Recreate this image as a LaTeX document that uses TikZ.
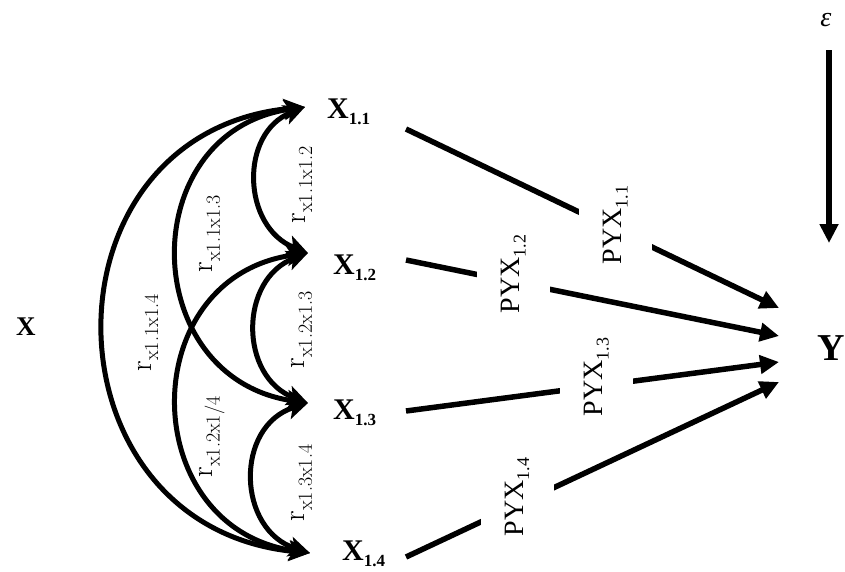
\documentclass[tikz,border=0pt]{standalone}
\usepackage{fontspec}
\newfontfamily\tnr{Liberation Serif}
\usetikzlibrary{arrows.meta}
\newcommand{\fsz}[1]{\fontsize{#1}{#1}\selectfont}
\newcommand{\xlab}[1]{{\tnr\bfseries\fsz{30}X\raisebox{-6pt}{\fsz{17}#1}}}
\newcommand{\pyx}[1]{{\tnr\fsz{28}PYX\raisebox{-6pt}{\fsz{18}#1}}}
\newcommand{\rlab}[1]{{\fsz{30}r\raisebox{-7pt}{\fsz{20}#1}}}
\begin{document}
\begin{tikzpicture}[x=1pt,y=-1pt,
  conn/.style={line width=5.5pt,-{Triangle[length=19pt,width=18pt]}},
  corr/.style={line width=5pt,{Stealth[length=21pt,width=20pt,inset=5pt]}-{Stealth[length=21pt,width=20pt,inset=5pt]}},
  pbox/.style={fill=white,rotate=90,inner sep=0pt,minimum height=73pt},
  rtxt/.style={rotate=90,inner sep=0pt},
  lbl/.style={inner sep=0pt}]
\useasboundingbox (0,0) rectangle (845,571);
\fill[white] (0,0) rectangle (845,571);

% variable nodes
\node[lbl,anchor=base west] (X) at (16,335) {{\tnr\bfseries\fsz{27}X}};
\node[lbl,anchor=base west] (X11) at (327,118) {\xlab{1.1}};
\node[lbl,anchor=base west] (X12) at (333,274) {\xlab{1.2}};
\node[lbl,anchor=base west] (X13) at (333,419) {\xlab{1.3}};
\node[lbl,anchor=base west] (X14) at (342,560) {\xlab{1.4}};
\node[lbl,anchor=base west] (Y) at (817,360) {{\tnr\bfseries\fsz{38}Y}};
\node[lbl] (eps) at (826,20) {{\tnr\itshape\fsz{28}ε}};

% anchor points
\coordinate (c11) at (305,107);
\coordinate (c12) at (308,253);
\coordinate (c13) at (308,403);
\coordinate (c14) at (310,553);
\coordinate (s1) at (406,129);
\coordinate (s2) at (406,260);
\coordinate (s3) at (406,411);
\coordinate (s4) at (406,557);
\coordinate (e1) at (779,308);
\coordinate (e2) at (779,336);
\coordinate (e3) at (779,362);
\coordinate (e4) at (779,382);
\coordinate (epsA) at (829,50);
\coordinate (epsB) at (829,243);

% error arrow
\draw[conn] (epsA) -- (epsB);

% correlations
\draw[corr] (c11) .. controls (239,133) and (242,227) .. (c12);
\draw[corr] (c12) .. controls (238.8,279) and (238.8,377) .. (c13);
\draw[corr] (c13) .. controls (234.5,426) and (236.5,530) .. (c14);
\draw[corr] (c11) .. controls (133.7,131.4) and (136.7,378.6) .. (c13);
\draw[corr] (c12) .. controls (133.5,277) and (135.5,529) .. (c14);
\draw[corr] (c11) .. controls (34.4,132.6) and (39.4,527.4) .. (c14);

\node[rtxt] (r12) at (302,185) {\rlab{x1.1x1.2}};
\node[rtxt] (r13) at (210,234) {\rlab{x1.1x1.3}};
\node[rtxt] (r14) at (148,333) {\rlab{x1.1x1.4}};
\node[rtxt] (r23) at (302,330) {\rlab{x1.2x1.3}};
\node[rtxt] (r24) at (212,437) {\rlab{x1.2x1/4}};
\node[rtxt] (r34) at (302,483) {\rlab{x1.3x1.4}};

% paths to Y
\draw[conn] (s1) -- (e1);
\draw[conn] (s2) -- (e2);
\draw[conn] (s3) -- (e3);
\draw[conn] (s4) -- (e4);

\node[pbox,minimum width=104pt] (P11) at (615.5,225) {\pyx{1.1}};
\node[pbox,minimum width=92pt] (P12) at (513.5,274) {\pyx{1.2}};
\node[pbox,minimum width=102pt] (P13) at (596.5,377) {\pyx{1.3}};
\node[pbox,minimum width=100pt] (P14) at (517,497) {\pyx{1.4}};
\end{tikzpicture}
\end{document}
